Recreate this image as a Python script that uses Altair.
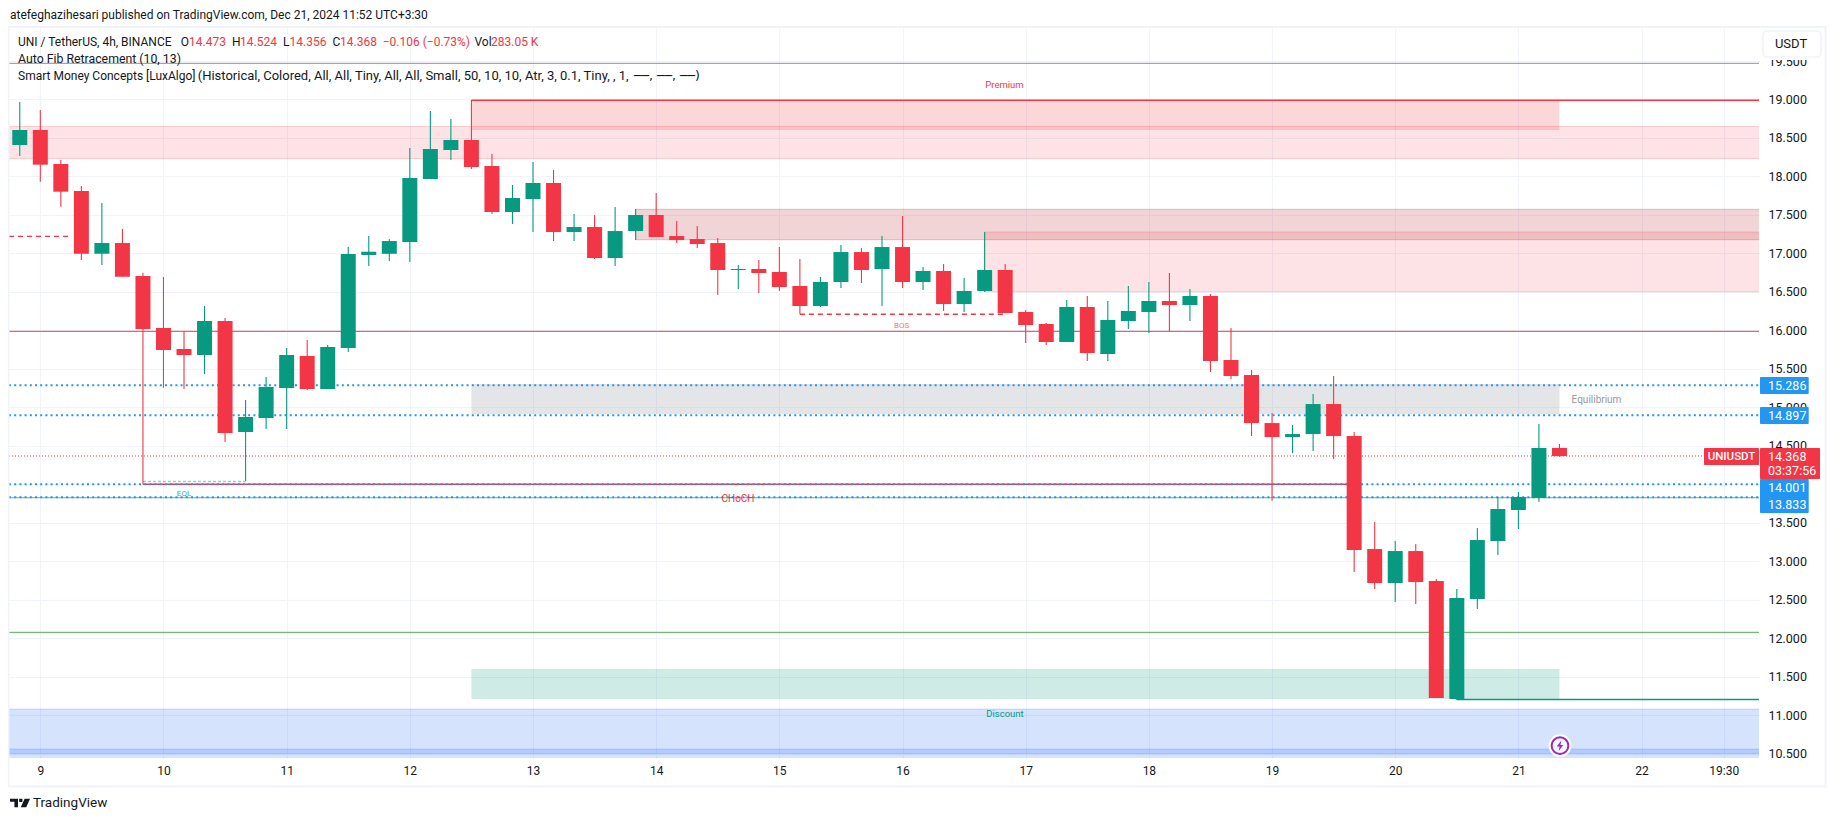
import altair as alt
import pandas as pd

bar_index = list(range(-1, 75))
opens = [18.409,18.604,18.162,17.811,16.996,17.135,16.707,16.031,15.758,15.680,16.122,14.680,14.862,15.251,15.667,15.238,15.771,16.980,16.995,17.148,17.967,18.344,18.474,18.136,17.538,17.707,17.915,17.278,17.343,16.940,17.291,17.499,17.226,17.187,17.135,16.785,16.798,16.759,16.577,16.317,16.629,17.018,16.798,17.083,16.629,16.772,16.343,16.512,16.785,16.239,16.083,15.849,16.304,15.693,16.122,16.239,16.382,16.330,16.447,15.615,15.420,14.796,14.614,14.653,15.043,14.627,13.159,12.717,13.133,12.743,11.210,12.510,13.263,13.666,13.822,14.473]
highs = [18.968,18.864,18.214,17.876,17.655,17.317,16.750,16.694,15.988,16.317,16.161,15.095,15.394,15.771,15.875,15.810,17.083,17.226,17.187,18.370,18.851,18.747,18.994,18.292,17.889,18.188,18.084,17.512,17.499,17.603,17.577,17.785,17.421,17.356,17.200,16.850,16.915,17.083,16.927,16.694,17.110,17.070,17.226,17.486,16.824,16.863,16.681,17.278,16.863,16.265,16.096,16.395,16.447,16.382,16.577,16.629,16.746,16.538,16.473,16.031,15.485,14.926,14.770,15.173,15.407,14.680,13.510,13.263,13.224,12.769,12.639,13.432,13.835,13.900,14.784,14.524]
lows = [18.266,17.932,17.607,16.914,16.850,16.697,14.004,15.255,15.238,15.433,14.550,14.043,14.719,14.719,15.225,15.238,15.719,16.837,16.902,16.888,17.967,18.214,18.097,17.512,17.382,17.278,17.161,17.161,16.927,16.837,17.174,17.213,17.135,17.070,16.460,16.538,16.486,16.512,16.213,16.304,16.551,16.616,16.317,16.551,16.525,16.252,16.239,16.499,16.226,15.836,15.810,15.849,15.602,15.602,16.018,15.966,15.992,16.122,15.459,15.368,14.627,13.787,14.407,14.432,14.328,12.860,12.639,12.470,12.444,11.223,11.197,12.380,13.081,13.419,13.770,14.356]
closes = [18.604,18.153,17.802,16.996,17.135,16.697,16.018,15.745,15.680,16.122,14.667,14.875,15.264,15.680,15.238,15.784,16.993,17.022,17.161,17.980,18.357,18.474,18.123,17.538,17.720,17.915,17.278,17.343,16.940,17.291,17.499,17.213,17.174,17.122,16.785,16.798,16.746,16.564,16.317,16.629,17.018,16.785,17.083,16.629,16.772,16.343,16.512,16.785,16.226,16.070,15.849,16.304,15.706,16.135,16.252,16.382,16.330,16.447,15.602,15.407,14.796,14.614,14.653,15.043,14.627,13.146,12.717,13.133,12.730,11.223,12.522,13.276,13.679,13.835,14.472,14.368]

price_ticks = [10.5,11.0,11.5,12.0,12.5,13.0,13.5,14.0,14.5,15.0,15.5,16.0,16.5,17.0,17.5,18.0,18.5,19.0,19.5]
time_ticks = [0,6,12,18,24,30,36,42,48,54,60,66,72,78,82]
time_labels = ["9","10","11","12","13","14","15","16","17","18","19","20","21","22","19:30"]

GREEN, RED = "#089981", "#f23645"
FONT = "Roboto"
TEXT = "#131722"
W, H = 1750, 730
XMIN, XMAX = -1.525, 83.72
YMIN, YMAX = 10.444, 19.929
xs = alt.Scale(domain=[XMIN, XMAX], nice=False, zero=False, padding=0)
ys = alt.Scale(domain=[YMIN, YMAX], nice=False, zero=False, padding=0)

df = pd.DataFrame(dict(i=bar_index, o=opens, h=highs, l=lows, c=closes))
df["col"] = [GREEN if c >= o else RED for o, c in zip(opens, closes)]

label_expr = "{" + ",".join(f"'{v}':'{t}'" for v, t in zip(time_ticks, time_labels)) + "}[datum.value]"

x_axis = alt.Axis(
    values=time_ticks, labelExpr=label_expr, grid=True, gridColor="#f0f3fa", gridWidth=1,
    domain=False, ticks=False, labelColor=TEXT, labelFont=FONT, labelFontSize=12,
    labelPadding=7, title=None, labelOverlap=False, labelFlush=False)
y_axis = alt.Axis(
    orient="right", values=price_ticks, format=".3f", grid=True, gridColor="#f0f3fa", gridWidth=1,
    domain=False, ticks=False, labelColor=TEXT, labelFont=FONT, labelFontSize=12.5,
    labelPadding=9, title=None, labelOverlap=False, labelBound=False)


def X(field):
    return alt.X(field, scale=xs, axis=x_axis)


def Y(field):
    return alt.Y(field, scale=ys, axis=y_axis)


# zones: x start, x end, top, bottom, fill, fill opacity, edge opacity
z_x0 = [-3, 21, 29, 46, 21, 21, -3, -3]
z_x1 = [86, 74, 86, 86, 74, 74, 86, 86]
z_top = [18.652, 18.994, 17.573, 17.278, 15.303, 11.600, 11.080, 10.560]
z_bot = [18.231, 18.604, 17.178, 16.502, 14.914, 11.210, 10.500, 10.300]
z_fill = ["#f23645", "#f23645", "#b22833", "#f23645", "#787b86", "#089981", "#226cf4", "#226cf4"]
z_op = [0.14, 0.2, 0.2, 0.14, 0.2, 0.2, 0.19, 0.19]
z_edge = [0.2, 0, 0.25, 0.2, 0, 0, 0.2, 0.2]
zones = pd.DataFrame(dict(x0=z_x0, x1=z_x1, top=z_top, bot=z_bot, fill=z_fill, op=z_op, edge=z_edge))

base = alt.Chart(zones).mark_rect(clip=True, strokeWidth=1).encode(
    x=X("x0:Q"), x2="x1:Q", y=Y("top:Q"), y2="bot:Q",
    fill=alt.Fill("fill:N", scale=None),
    fillOpacity=alt.FillOpacity("op:Q", scale=None),
    stroke=alt.Stroke("fill:N", scale=None),
    strokeOpacity=alt.StrokeOpacity("edge:Q", scale=None),
)


def hline(price, x0, x1, color, width=1.0, dash=None, opacity=1.0):
    kw = {"strokeDash": dash} if dash else {}
    d = pd.DataFrame(dict(x0=[x0], x1=[x1], p=[price]))
    return alt.Chart(d).mark_rule(color=color, strokeWidth=width, clip=True, opacity=opacity, **kw).encode(
        x=X("x0:Q"), x2="x1:Q", y=Y("p:Q"))


lines = [
    hline(19.470, XMIN, XMAX, "#8a90ab", 1.0),
    hline(18.990, 21, XMAX, RED, 1.3),
    hline(15.988, XMIN, XMAX, "#ef3e3e", 1.0),
    hline(12.077, XMIN, XMAX, "#4caf50", 1.0),
    hline(13.826, XMIN, XMAX, "#6fb36f", 1.0),
    hline(11.205, 69, XMAX, GREEN, 1.5),
    hline(14.000, 5, 64, RED, 1.6),
    hline(16.209, 37, 47, RED, 1.4, [5, 4]),
    hline(17.222, XMIN, 1.4, RED, 1.2, [5, 4]),
    hline(15.286, XMIN, XMAX, "#2196f3", 2, [2, 3.2]),
    hline(14.897, XMIN, XMAX, "#2196f3", 2, [2, 3.2]),
    hline(14.001, XMIN, XMAX, "#2196f3", 2, [2, 3.2]),
    hline(13.833, XMIN, XMAX, "#2196f3", 2, [2, 3.2]),
    hline(14.368, XMIN, XMAX, RED, 1, [1, 2]),
    hline(14.035, 5, 10, GREEN, 1.5, [3, 2], opacity=0.45),
]

wicks = alt.Chart(df).mark_rule(strokeWidth=1.1).encode(
    x=X("i:Q"), y=Y("h:Q"), y2="l:Q", color=alt.Color("col:N", scale=None))
bodies = alt.Chart(df).mark_bar(size=15, orient="vertical").encode(
    x=X("i:Q"), y=Y("o:Q"), y2="c:Q", color=alt.Color("col:N", scale=None))

ONE = alt.Data(values=[{"a": 1}])


def px(x):
    return x - 9


def py(y):
    return y - 28


def box(x0, y0, x1, y1, fill="transparent", stroke=None, sw=1.0, radius=0):
    kw = {"stroke": stroke, "strokeWidth": sw} if stroke else {}
    if radius:
        kw["cornerRadius"] = radius
    return alt.Chart(ONE).mark_rect(fill=fill, **kw).encode(
        x=alt.value(px(x0)), x2=alt.value(px(x1)), y=alt.value(py(y0)), y2=alt.value(py(y1)))


def txt(s, x, y, color=TEXT, size=12, align="left", font=FONT, weight="normal", opacity=1.0):
    return alt.Chart(ONE).mark_text(color=color, fontSize=size, align=align, baseline="middle",
                                    font=font, fontWeight=weight, opacity=opacity).encode(
        text=alt.value(s), x=alt.value(px(x)), y=alt.value(py(y)))


LOGO = "M-1 -.42 H-.2 V.42 H-.56 V-.12 H-1 Z M-.08 -.42 H.24 V-.1 H-.08 Z M.46 -.42 H1 L.62 .42 H.08 Z"
BOLT = "M.25 -1 L-.62 .15 H-.08 L-.25 1 L.62 -.15 H.08 Z"


def symbol(x, y, size, **kw):
    return alt.Chart(ONE).mark_point(size=size, **kw).encode(x=alt.value(px(x)), y=alt.value(py(y)))


BLUE = "#2196f3"
chrome = [
    box(8.5, 27, 1825.5, 786.5, stroke="#f0f3fa", sw=2),
    box(1760, 28, 1824, 60, fill="#ffffff"),
    box(1763, 31, 1821, 57, fill="#ffffff", stroke="#f0f3fa", sw=1.6, radius=4),
    txt("USDT", 1791, 44, size=13, align="center"),
    txt("atefeghazihesari published on TradingView.com, Dec 21, 2024 11:52 UTC+3:30", 10, 15, size=12),
    txt("UNI / TetherUS, 4h, BINANCE", 18, 41.5),
    txt("O", 180.7, 41.5), txt("14.473", 189, 41.5, RED),
    txt("H", 232, 41.5), txt("14.524", 240, 41.5, RED),
    txt("L", 283, 41.5), txt("14.356", 289.5, 41.5, RED),
    txt("C", 332.5, 41.5), txt("14.368", 340, 41.5, RED),
    txt("\u22120.106 (\u22120.73%)", 382.7, 41.5, RED),
    txt("Vol", 474.5, 41.5), txt("283.05 K", 491, 41.5, RED),
    txt("Auto Fib Retracement (10, 13)", 18, 59, size=12.3),
    txt("Smart Money Concepts [LuxAlgo]", 18, 76),
    txt("(Historical, Colored, All, All, Tiny, All, All, Small, 50, 10, 10, Atr, 3, 0.1, Tiny, , 1,", 197.7, 76, size=13),
    txt("\u2500\u2500, \u2500\u2500, \u2500\u2500)", 634, 76, size=12.5, font="DejaVu Sans"),
    txt("Premium", 1004.5, 85, RED, 9.5, "center"),
    txt("Discount", 1005, 713.5, GREEN, 9.5, "center"),
    txt("Equilibrium", 1596.5, 400, "#9598a1", 10, "center"),
    txt("CHoCH", 738, 499, RED, 10, "center"),
    txt("BOS", 901.7, 325.7, RED, 8, "center", opacity=0.7),
    txt("EQL", 184, 493.5, GREEN, 8, "center", opacity=0.8),
    box(1760, 377, 1808.7, 394, fill=BLUE, radius=1),
    txt("15.286", 1768, 385.8, "#ffffff", 12.5),
    box(1760, 407, 1808.7, 424, fill=BLUE, radius=1),
    txt("14.897", 1768, 415.8, "#ffffff", 12.5),
    box(1760, 479, 1808.7, 513, fill=BLUE, radius=1),
    txt("14.001", 1768, 487.8, "#ffffff", 12.5),
    txt("13.833", 1768, 504.8, "#ffffff", 12.5),
    box(1760, 448, 1820, 479, fill=RED, radius=1),
    txt("14.368", 1768, 456.8, "#ffffff", 12.5),
    txt("03:37:56", 1768, 470.6, "#ffffff", 12.5),
    box(1704, 448, 1759, 465, fill=RED, radius=1),
    txt("UNIUSDT", 1731.5, 456.8, "#ffffff", 11.5, "center", weight=500),
    symbol(1560, 745.7, 430, filled=True, fill="#ffffff", stroke="#ffffff", shape="circle", opacity=1),
    symbol(1560, 745.7, 280, filled=True, fill="#f3f6fe", stroke="#9c27b0", strokeWidth=2, shape="circle", opacity=1),
    symbol(1560, 745.7, 110, filled=True, fill="#9c27b0", strokeWidth=0, shape=BOLT, opacity=1),
    symbol(20, 803, 400, filled=True, fill=TEXT, strokeWidth=0, shape=LOGO, opacity=1),
    txt("TradingView", 33, 803, TEXT, 13.5),
]

chart = alt.layer(base, *lines, wicks, bodies, *chrome).properties(
    width=W, height=H,
    padding={"left": 1, "top": 20, "right": 68, "bottom": 55},
    autosize=alt.AutoSizeParams(type="none"),
    background="#ffffff",
).configure_view(stroke=None)

chart.save("out.html", embed_options={"renderer": "svg", "actions": False})
